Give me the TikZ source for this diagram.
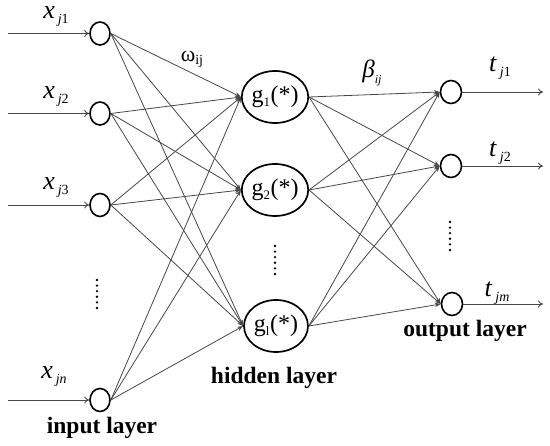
\documentclass[tikz,border=0pt]{standalone}
\usepackage{fontspec}
\setmainfont{Liberation Serif}
\usetikzlibrary{shapes.geometric,arrows.meta}
\newcommand{\vsub}[2]{\textit{#1}\hspace{3pt}\raisebox{-5pt}{\fontsize{14}{14}\selectfont #2}}
\begin{document}
\begin{tikzpicture}[x=1pt,y=-1pt,
  inn/.style={ellipse, draw, line width=1.6pt, minimum width=20pt, minimum height=23pt, inner sep=0pt},
  outn/.style={ellipse, draw, line width=1.6pt, minimum width=21pt, minimum height=23pt, inner sep=0pt},
  hid/.style={ellipse, draw, line width=1.7pt, minimum width=64pt, minimum height=52pt, inner sep=0pt, font=\fontsize{24}{24}\selectfont},
  conn/.style={draw=black!72, line width=0.8pt, -{Stealth[length=6pt,width=4.5pt]}},
  ioarr/.style={draw=black!72, line width=0.9pt, -{To[length=5pt,width=7pt]}},
  lbl/.style={inner sep=0pt, font=\fontsize{26}{26}\selectfont},
  layer/.style={inner sep=0pt, font=\fontsize{23.5}{23.5}\selectfont\bfseries},
  vdots/.style={inner sep=0pt}
]
\useasboundingbox (0,0) rectangle (550,446);
% input layer
\node[inn] (i1) at (100,33.5) {};
\node[inn] (i2) at (100,113.5) {};
\node[inn] (i3) at (100,205) {};
\node[inn] (in) at (100,400) {};
% hidden layer
\node[hid] (h1) at (275,97) {g\textsubscript{\fontsize{13}{13}\selectfont 1}(*)};
\node[hid] (h2) at (275,190) {g\textsubscript{\fontsize{13}{13}\selectfont 2}(*)};
\node[hid] (hl) at (276,326) {g\textsubscript{\fontsize{13}{13}\selectfont l}(*)};
% output layer
\node[outn] (o1) at (451,92) {};
\node[outn] (o2) at (451,166) {};
\node[outn] (om) at (452,304) {};
% input arrows
\coordinate (a1) at (8,33.5);
\coordinate (a2) at (8,113.5);
\coordinate (a3) at (8,205);
\coordinate (an) at (8,400);
\draw[ioarr] (a1) -- (i1.west);
\draw[ioarr] (a2) -- (i2.west);
\draw[ioarr] (a3) -- (i3.west);
\draw[ioarr] (an) -- (in.west);
% output arrows
\coordinate (b1) at (543,92);
\coordinate (b2) at (543,166);
\coordinate (bm) at (543,304);
\draw[ioarr] (o1.east) -- (b1);
\draw[ioarr] (o2.east) -- (b2);
\draw[ioarr] (om.east) -- (bm);
% input -> hidden
\foreach \i in {i1,i2,i3,in}{
  \foreach \h in {h1,h2,hl}{
    \draw[conn] (\i.east) -- (\h.west);
  }
}
% hidden -> output
\foreach \h in {h1,h2,hl}{
  \foreach \o in {o1,o2,om}{
    \draw[conn] (\h.east) -- (\o.west);
  }
}
% labels
\node[lbl] (lx1) at (56,17) {\vsub{x}{\textit{j}1}};
\node[lbl] (lx2) at (56,97) {\vsub{x}{\textit{j}2}};
\node[lbl] (lx3) at (56,188) {\vsub{x}{\textit{j}3}};
\node[lbl] (lxn) at (54,377) {\vsub{x}{\textit{jn}}};
\node[lbl] (lt1) at (500,68) {\vsub{t}{\textit{j}1}};
\node[lbl] (lt2) at (500,153) {\vsub{t}{\textit{j}2}};
\node[lbl] (ltm) at (497,293) {\vsub{t}{\textit{jm}}};
\node[inner sep=0pt, font=\fontsize{22}{22}\selectfont] (lw) at (192,59) {ω\raisebox{-3pt}{\fontsize{14}{14}\selectfont ij}};
\node[inner sep=0pt, font=\fontsize{25}{25}\selectfont] (lb) at (372,73) {\textit{β}\raisebox{-6pt}{\fontsize{12}{12}\selectfont\textit{ij}}};
% dots
\foreach \k in {0,...,5}{
  \fill (97,280+\k*5.6) circle (1.3pt);
  \fill (275,246+\k*5.6) circle (1.3pt);
  \fill (450,222+\k*5.6) circle (1.3pt);
}
% layer names
\node[layer] (L1) at (102,428) {input layer};
\node[layer] (L2) at (274,378) {hidden layer};
\node[layer] (L3) at (465,331) {output layer};
\end{tikzpicture}
\end{document}
